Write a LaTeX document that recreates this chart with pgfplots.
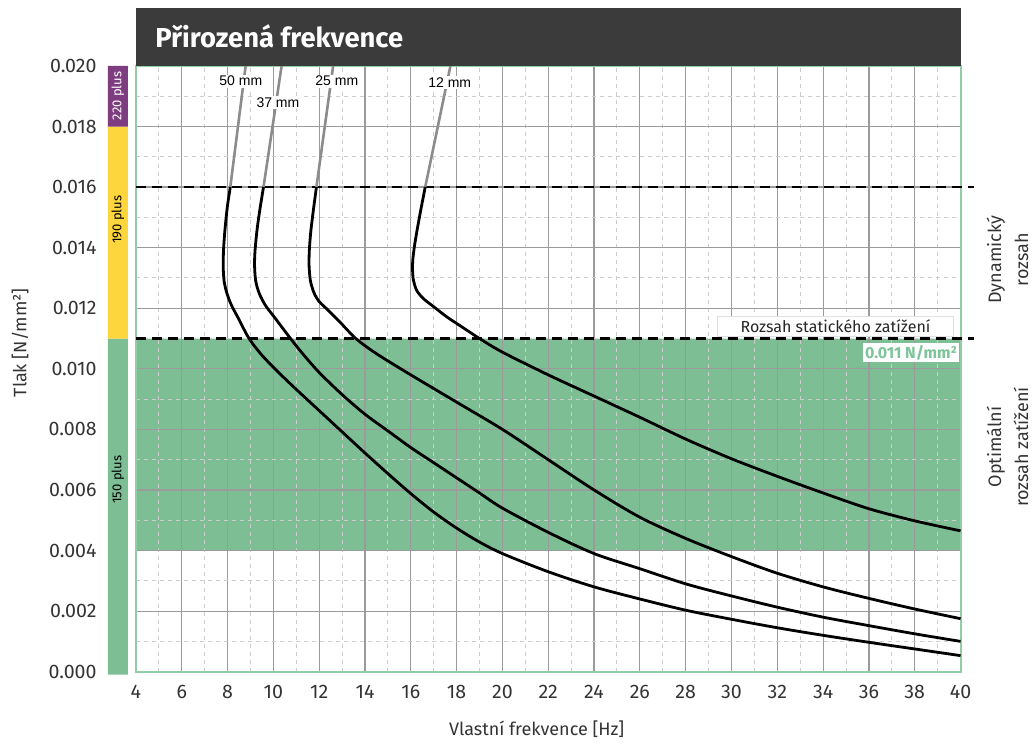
\documentclass[border=0pt]{standalone}
\usepackage{fontspec}
\setmainfont{Fira Sans}
\newfontfamily\arialf{Liberation Sans}
\usepackage{pgfplots}
\pgfplotsset{compat=1.18}

\definecolor{zone}{HTML}{7DBE94}
\definecolor{zonetext}{HTML}{7DC49A}
\definecolor{axgreen}{HTML}{92CDA6}
\definecolor{titlebg}{HTML}{3B3B3B}
\definecolor{barpurple}{HTML}{7E3D80}
\definecolor{baryellow}{HTML}{FDD53C}
\definecolor{majgrid}{HTML}{9B9B9B}
\definecolor{mingrid}{HTML}{CDCDCD}
\definecolor{upper}{HTML}{8C8C8C}
\definecolor{txt}{HTML}{333333}

\begin{document}
\begin{tikzpicture}
\begin{axis}[
  set layers,
  scale only axis,
  width=412.5pt, height=303pt,
  xmin=4, xmax=40, ymin=0, ymax=0.020,
  clip=false,
  xtick={4,6,...,40},
  minor xtick={5,7,...,39},
  ytick={0,0.002,0.004,0.006,0.008,0.010,0.012,0.014,0.016,0.018,0.020},
  minor ytick={0.001,0.003,0.005,0.007,0.009,0.011,0.013,0.015,0.017,0.019},
  grid=both,
  major grid style={majgrid, line width=0.6pt},
  minor grid style={mingrid, line width=0.5pt, dash pattern=on 2pt off 2pt},
  major tick length=0pt, minor tick length=0pt,
  axis line style={axgreen, line width=1pt},
  scaled y ticks=false,
  /pgf/number format/assume math mode=true,
  yticklabel style={/pgf/number format/fixed, /pgf/number format/fixed zerofill,
    /pgf/number format/precision=3, anchor=east, inner sep=0pt, xshift=-19.5pt,
    font=\fontsize{9.8}{11}\selectfont, text=txt},
  xticklabel style={anchor=north, inner sep=0pt, yshift=-6.5pt,
    font=\fontsize{9.8}{11}\selectfont, text=txt},
  xlabel={Vlastní frekvence [Hz]},
  ylabel={Tlak [N/mm²]},
  xlabel style={at={(axis description cs:0.486,-0.0957)}, anchor=center,
    font=\fontsize{9}{11}\selectfont, text=txt},
  ylabel style={at={(axis description cs:-0.1406,0.543)}, anchor=center,
    font=\fontsize{9}{11}\selectfont, text=txt},
]
% page extent
\path (axis cs:-1.934,-0.002343) rectangle (axis cs:43.22,0.022178);

% optimal zone
\addplot[fill=zone, draw=none, on layer=axis background]
  coordinates {(4,0.004) (40,0.004) (40,0.011) (4,0.011) (4,0.004)};

% load class bar
\addplot[fill=zone, draw=none] coordinates {(2.778,-0.0001) (3.651,-0.0001) (3.651,0.011) (2.778,0.011) (2.778,-0.0001)};
\addplot[fill=baryellow, draw=none] coordinates {(2.778,0.011) (3.651,0.011) (3.651,0.018) (2.778,0.018) (2.778,0.011)};
\addplot[fill=barpurple, draw=none] coordinates {(2.778,0.018) (3.651,0.018) (3.651,0.020) (2.778,0.020) (2.778,0.018)};
\node[rotate=90, text=white, font=\fontsize{6.5}{7}\selectfont] at (axis cs:3.21,0.01901) {220 plus};
\node[rotate=90, text=black, font=\fontsize{6.5}{7}\selectfont] at (axis cs:3.21,0.01492) {190 plus};
\node[rotate=90, text=black, font=\fontsize{6.5}{7}\selectfont] at (axis cs:3.21,0.00634) {150 plus};

% range limits
\addplot[black, line width=1.2pt, dash pattern=on 5pt off 3pt] coordinates {(4,0.016) (40.6,0.016)};
\addplot[black, line width=1.2pt, dash pattern=on 5pt off 3pt] coordinates {(4,0.011) (40.6,0.011)};

% curves above dynamic range
\addplot[upper, line width=1.3pt] coordinates {(8.12,0.016) (8.79,0.020)};
\addplot[upper, line width=1.3pt] coordinates {(9.57,0.016) (10.36,0.020)};
\addplot[upper, line width=1.3pt] coordinates {(11.88,0.016) (12.61,0.020)};
\addplot[upper, line width=1.3pt] coordinates {(16.63,0.016) (17.73,0.020)};

% 50 mm
\addplot[black, line width=1.4pt, smooth] coordinates {
(8.12,0.0160) (8.00,0.0154) (7.90,0.0147) (7.83,0.0140) (7.81,0.0134) (7.85,0.0129)
(7.97,0.0125) (8.17,0.0121) (8.45,0.0117) (8.94,0.0110) (9.5,0.01045) (10.2,0.0099)
(11,0.00932) (12,0.00862) (13,0.00792) (14,0.00722) (15,0.00654) (16,0.00588)
(17,0.00527) (18,0.00474) (19,0.00428) (20,0.0039) (22,0.0033) (24,0.0028) (26,0.0024)
(28,0.00203) (30,0.00173) (32,0.00145) (34,0.0012) (36,0.00097) (38,0.00075) (40,0.00053)};
% 37 mm
\addplot[black, line width=1.4pt, smooth] coordinates {
(9.57,0.0160) (9.42,0.0153) (9.29,0.0146) (9.20,0.0139) (9.18,0.0134) (9.23,0.0129)
(9.38,0.0125) (9.65,0.0121) (10.1,0.01165) (10.75,0.0110) (11.3,0.01048) (12,0.00988)
(13,0.00915) (14,0.0085) (15,0.00795) (16,0.0074) (17,0.0069) (18,0.0064) (19,0.0059)
(20,0.0054) (22,0.0046) (24,0.0039) (26,0.0034) (28,0.0029) (30,0.0025) (32,0.00213)
(34,0.0018) (36,0.00152) (38,0.00125) (40,0.0010)};
% 25 mm
\addplot[black, line width=1.4pt, smooth] coordinates {
(11.88,0.0160) (11.74,0.0152) (11.63,0.0145) (11.57,0.0139) (11.56,0.0134) (11.62,0.0129)
(11.78,0.0125) (12.0,0.01222) (12.3,0.0120) (12.9,0.01155) (13.6,0.0110) (14.5,0.0105)
(16,0.0098) (18,0.0089) (20,0.0080) (22,0.0070) (24,0.0060) (26,0.0051) (28,0.0044)
(30,0.0038) (32,0.00325) (34,0.0028) (36,0.00242) (38,0.00207) (40,0.00175)};
% 12 mm
\addplot[black, line width=1.4pt, smooth] coordinates {
(16.63,0.0160) (16.45,0.0153) (16.28,0.0146) (16.15,0.0140) (16.08,0.0135) (16.10,0.0130)
(16.25,0.0126) (16.55,0.01232) (17.0,0.01205) (17.6,0.0117) (18.3,0.01135) (19.0,0.0110)
(20,0.01055) (22,0.0098) (24,0.0091) (26,0.0084) (28,0.00768) (30,0.00703) (32,0.00645)
(34,0.0059) (36,0.00538) (38,0.00498) (40,0.00465)};

% curve labels
\node[fill=white, inner sep=0.8pt, font=\arialf\fontsize{7}{8}\selectfont] at (axis cs:8.58,0.0195) {50 mm};
\node[fill=white, inner sep=0.8pt, font=\arialf\fontsize{7}{8}\selectfont] at (axis cs:10.2,0.0188) {37 mm};
\node[fill=white, inner sep=0.8pt, font=\arialf\fontsize{7}{8}\selectfont] at (axis cs:12.77,0.0195) {25 mm};
\node[fill=white, inner sep=0.8pt, font=\arialf\fontsize{7}{8}\selectfont] at (axis cs:17.7,0.01944) {12 mm};

% range annotations
\node[fill=white, draw=black!12, line width=0.4pt, minimum width=118pt, minimum height=10pt, inner sep=0pt,
  font=\fontsize{8}{9}\selectfont, text=black!85] at (axis cs:34.54,0.0114) {Rozsah statického zatížení};
\node[fill=white, anchor=east, inner sep=1pt, font=\bfseries\fontsize{8}{9}\selectfont, text=zonetext]
  at (axis cs:39.95,0.01053) {0.011 N/mm²};
\node[rotate=90, align=center, font=\fontsize{9}{13.5}\selectfont, text=txt]
  at (axis description cs:1.057,0.680) {Dynamický\\rozsah};
\node[rotate=90, align=center, font=\fontsize{9}{13.5}\selectfont, text=txt]
  at (axis description cs:1.057,0.371) {Optimální\\rozsah zatížení};

% title bar
\begin{pgfonlayer}{axis foreground}
\fill[titlebg] (axis cs:4,0.0200) rectangle (axis cs:40,0.021914);
\node[anchor=west, inner sep=0pt, text=white, font=\bfseries\fontsize{13.7}{15}\selectfont] at (axis cs:4.83,0.02099) {Přirozená frekvence};
\end{pgfonlayer}
\end{axis}
\end{tikzpicture}
\end{document}
